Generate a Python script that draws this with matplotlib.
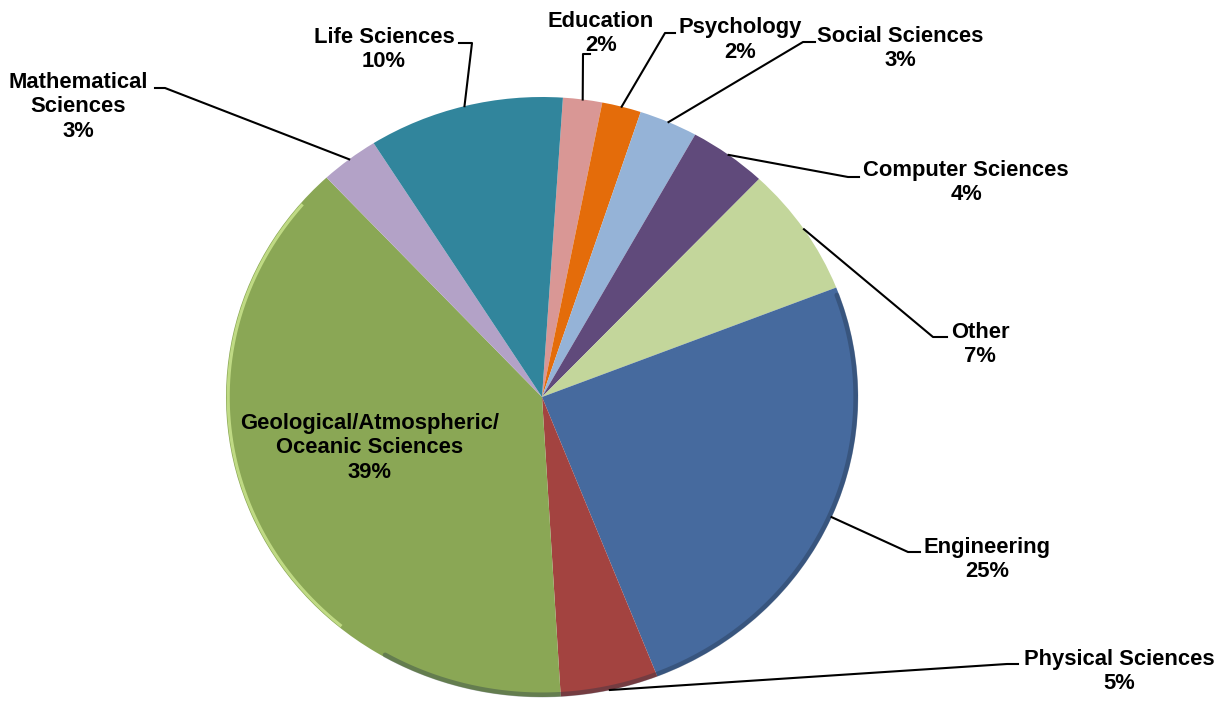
import numpy as np
import matplotlib.pyplot as plt

# slices, clockwise from the top of the pie
fields = ['Education', 'Psychology', 'Social Sciences', 'Computer Sciences', 'Other',
          'Engineering', 'Physical Sciences', 'Geological/Atmospheric/\nOceanic Sciences',
          'Mathematical\nSciences', 'Life Sciences']
shares = [2, 2, 3, 4, 7, 25, 5, 39, 3, 10]
colors = ['#D99795', '#E46C0A', '#95B3D7', '#604A7B', '#C3D69B',
          '#466A9E', '#A34340', '#8AA755', '#B3A2C7', '#31859C']

W, H = 1223, 715
CX, CY, RX, RY = 542, 397, 316, 300   # pie centre / radii in pixels


def px(x, y):
    # pixel (from top-left) -> data coords of the unit pie
    return (x - CX) / RX, (CY - y) / RY


# label layout: text centre, leader elbow, leader end (pixels)
layout = {
    'Education': ((601, 33.5), (583, 54), (590, 54)),
    'Psychology': ((740, 40), (665, 33), (675, 33)),
    'Social Sciences': ((900, 48.5), (803, 42), (815, 42)),
    'Computer Sciences': ((966, 182.5), (848, 177), (859, 177)),
    'Other': ((980, 344.5), (933, 337), (947, 337)),
    'Engineering': ((987, 559.5), (908, 552), (920, 552)),
    'Physical Sciences': ((1119, 671.5), (1007, 664), (1018, 664)),
    'Mathematical\nSciences': ((78, 107), (165, 88), (155, 88)),
    'Life Sciences': ((384, 49.5), (472, 43), (459, 43)),
}

plt.rcParams['font.family'] = ['Liberation Sans', 'DejaVu Sans']
fig = plt.figure(figsize=(W / 100, H / 100), dpi=100)
ax = fig.add_axes([0, 0, 1, 1])

start = 90 - 3.8
wedges, _ = ax.pie(shares, colors=colors, startangle=start, counterclock=False,
                   wedgeprops=dict(linewidth=0))
ax.set_aspect('auto')
ax.set_xlim(px(0, 0)[0], px(W, 0)[0])
ax.set_ylim(px(0, H)[1], px(0, 0)[1])
ax.axis('off')

# soft darker rim on the lower right, like the bevelled Excel pie
t = np.linspace(np.radians(-120), np.radians(20), 200)
ax.plot(0.993 * np.cos(t), 0.993 * np.sin(t), color='#1f2f45', lw=3.5, alpha=0.35,
        solid_capstyle='round')
t2 = np.linspace(np.radians(140), np.radians(230), 200)
ax.plot(0.993 * np.cos(t2), 0.993 * np.sin(t2), color='#c6e08a', lw=2.2, alpha=0.9)

cum = 0
for name, share in zip(fields, shares):
    mid = np.radians(start - (cum + share / 2) / 100 * 360)
    cum += share
    label = f'{name}\n{share}%'
    if name not in layout:
        tx, ty = px(370, 448)
        ax.text(tx, ty, label, ha='center', va='center', fontsize=15.8,
                fontweight='bold', linespacing=1.2)
        continue
    (tx, ty), elbow, end = layout[name]
    ex, ey = px(*elbow)
    nx, ny = px(*end)
    ax.plot([np.cos(mid), ex, nx], [np.sin(mid), ey, ny], color='black', lw=1.5)
    tx, ty = px(tx, ty)
    ax.text(tx, ty, label, ha='center', va='center', fontsize=15.8,
            fontweight='bold', linespacing=1.2)

fig.savefig('out.png', dpi=100)
